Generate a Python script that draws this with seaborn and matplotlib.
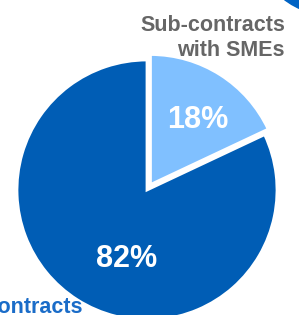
import matplotlib
matplotlib.use("Agg")
import matplotlib.pyplot as plt
from matplotlib.patches import Circle
import seaborn as sns

# data
labels = ["Sub-contracts\nwith SMEs", "Contracts"]
shares = [18, 82]
pct_text = ["18%", "82%"]

dark = "#005db5"
light = "#80c0ff"
grey = "#666666"

sns.set_theme(style="white")
plt.rcParams["font.family"] = ["Liberation Sans", "DejaVu Sans"]

fig = plt.figure(figsize=(2.99, 3.15), dpi=100)
ax = fig.add_axes([0, 0, 1, 1])

ax.pie(shares, colors=[light, dark], startangle=90, counterclock=False,
       explode=[0.05, 0], radius=1.0,
       wedgeprops=dict(edgecolor="white", linewidth=2))

# scale: 1 unit = 130 px, pie centre at (147, 190) px
ax.set_xlim(-147 / 130, 152 / 130)
ax.set_ylim(-125 / 130, 190 / 130)
ax.set_aspect("equal")
ax.axis("off")

# piece of a neighbouring chart in the corner
ax.add_patch(Circle((1.408, 1.923), 0.577, color="#0063c4", zorder=0))

ax.text(0.392, 0.477, pct_text[0], color="white", fontsize=22,
        fontweight="bold", ha="center", va="baseline")
ax.text(-0.154, -0.592, pct_text[1], color="white", fontsize=22,
        fontweight="bold", ha="center", va="baseline")

line1, line2 = labels[0].split("\n")
ax.text(1.062, 1.223, line1, color=grey, fontsize=15.5, fontweight="bold",
        ha="right", va="baseline")
ax.text(1.062, 1.031, line2, color=grey, fontsize=15.5, fontweight="bold",
        ha="right", va="baseline")
ax.text(-0.492, -0.946, labels[1], color="#1a6cc8", fontsize=15.5,
        fontweight="bold", ha="right", va="baseline")

fig.savefig("out.png", dpi=100)
